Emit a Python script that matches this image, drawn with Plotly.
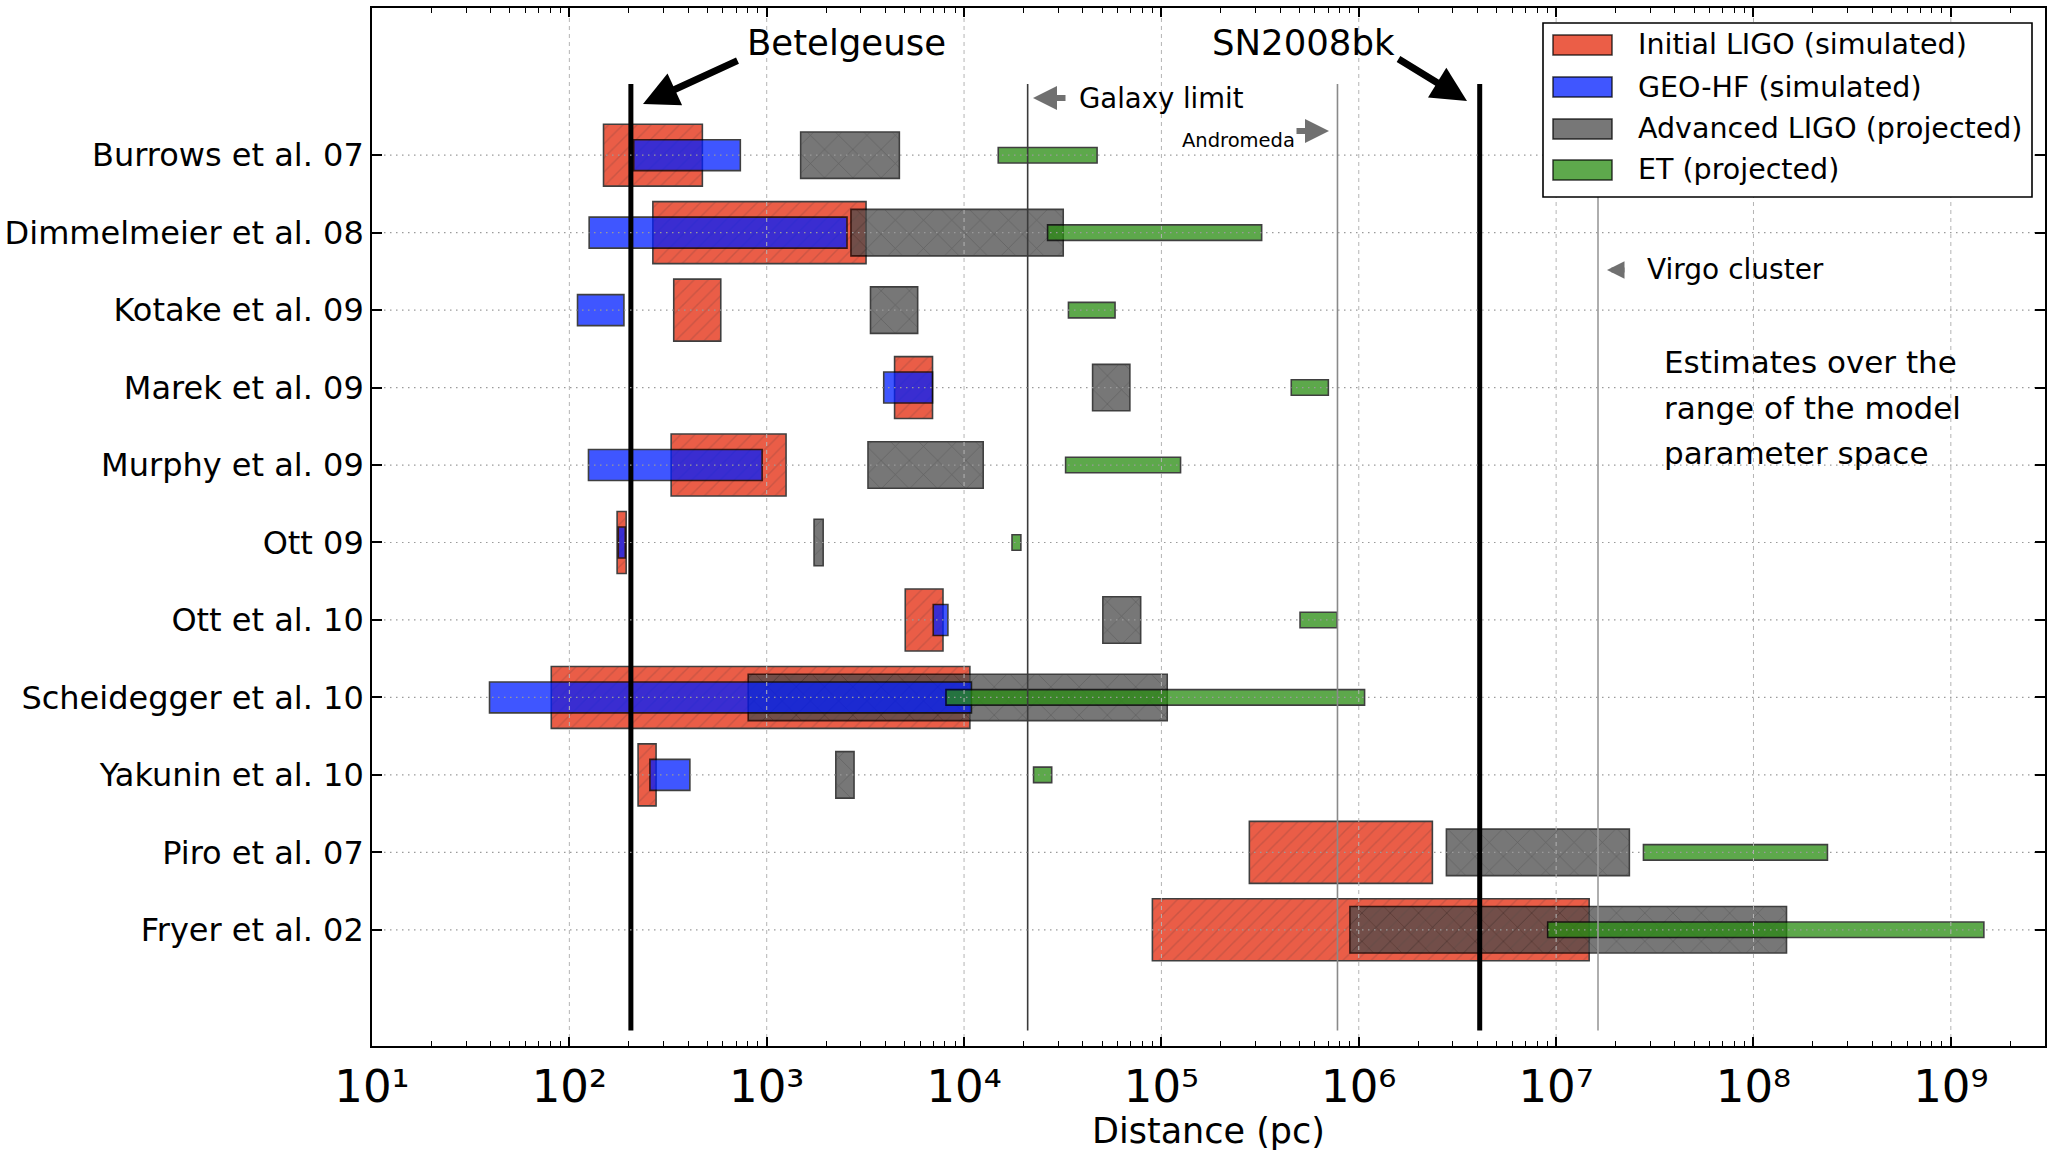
import math
import plotly.graph_objects as go

# ---------------- data (distances in pc) ----------------
models = ["Burrows et al. 07", "Dimmelmeier et al. 08", "Kotake et al. 09",
          "Marek et al. 09", "Murphy et al. 09", "Ott 09", "Ott et al. 10",
          "Scheidegger et al. 10", "Yakunin et al. 10", "Piro et al. 07",
          "Fryer et al. 02"]

ligo_lo = [149, 265, 338, 4446, 328, 174.6, 5035, 81, 223, 2.79e5, 9.0e4]
ligo_hi = [472, 3186, 585, 6920, 1253, 194, 7819, 1.07e4, 275, 2.36e6, 1.47e7]

geo_lo = [212, 126, 110, 3917, 125, 177, 6980, 39.4, 256, None, None]
geo_hi = [735, 2552, 189, 6920, 948, 192, 8280, 1.09e4, 408, None, None]

aligo_lo = [1486, 2673, 3357, 4.48e4, 3260, 1738, 5.05e4, 806, 2240, 2.78e6, 9.02e5]
aligo_hi = [4700, 3.18e4, 5820, 6.92e4, 1.25e4, 1932, 7.85e4, 1.07e5, 2770, 2.35e7, 1.47e8]

et_lo = [1.49e4, 2.65e4, 3.38e4, 4.55e5, 3.27e4, 1.75e4, 5.04e5, 8.1e3, 2.25e4, 2.77e7, 9.06e6]
et_hi = [4.72e4, 3.22e5, 5.82e4, 7.01e5, 1.25e5, 1.94e4, 7.76e5, 1.07e6, 2.78e4, 2.37e8, 1.47e9]

detector_names = ["Initial LIGO (simulated)", "GEO-HF (simulated)",
                  "Advanced LIGO (projected)", "ET (projected)"]

# reference distances (pc)
ref_names = ["Betelgeuse", "Galaxy limit", "Andromeda", "SN2008bk", "Virgo cluster"]
ref_dist = [205, 2.1e4, 7.8e5, 4.1e6, 1.63e7]

decade_exps = [1, 2, 3, 4, 5, 6, 7, 8, 9]
tick_labels = ["10¹", "10²", "10³", "10⁴", "10⁵", "10⁶", "10⁷", "10⁸", "10⁹"]

# ---------------- geometry helpers ----------------
FW, FH = 2052, 1151
L, R, T, B = 372, 2045, 8, 1046
PW, PH = R - L, B - T
XMAX = 3e9
YMIN, YMAX = -0.5, 12.9


def px(p):
    return (p - L) / PW


def py(p):
    return (B - p) / PH


n = len(models)
ypos = [n - i for i in range(n)]

fig = go.Figure()

# reference vertical lines (under the bars)
ref_style = {
    "Betelgeuse": dict(color="black", width=5),
    "Galaxy limit": dict(color="#3a3a3a", width=1.6),
    "Andromeda": dict(color="#8a8a8a", width=1.6),
    "SN2008bk": dict(color="black", width=5),
    "Virgo cluster": dict(color="#9a9a9a", width=1.6),
}
for nm, d in zip(ref_names, ref_dist):
    fig.add_trace(go.Scatter(x=[d, d], y=[-0.3, 11.92], mode="lines",
                             line=ref_style[nm], showlegend=False,
                             hoverinfo="skip", name=nm))

# bars
specs = [
    (0, ligo_lo, ligo_hi, 0.8, "rgb(228,40,10)",
     dict(shape="/", bgcolor="rgb(228,40,10)", fgcolor="rgb(120,10,0)",
          fgopacity=0.4, size=10, solidity=0.15)),
    (2, aligo_lo, aligo_hi, 0.6, "rgb(74,74,74)",
     dict(shape="x", bgcolor="rgb(74,74,74)", fgcolor="rgb(0,0,0)",
          fgopacity=0.4, size=20, solidity=0.07)),
    (1, geo_lo, geo_hi, 0.4, "rgb(0,30,255)", None),
    (3, et_lo, et_hi, 0.2, "rgb(40,140,16)", None),
]
for idx, lo, hi, w, col, pat in specs:
    ys, bases, lens = [], [], []
    for yv, a, b in zip(ypos, lo, hi):
        if a is None or b is None:
            continue
        ys.append(yv)
        bases.append(a)
        lens.append(b - a)
    marker = dict(color=col, opacity=0.75, line=dict(color="black", width=1.6))
    if pat is not None:
        marker["pattern"] = pat
    fig.add_trace(go.Bar(orientation="h", y=ys, x=lens, base=bases, width=w,
                         marker=marker, name=detector_names[idx],
                         showlegend=False))

# grid lines drawn above the bars (as in the original)
gx, gy = [], []
for e in decade_exps[1:]:
    gx += [10 ** e, 10 ** e, None]
    gy += [YMIN, YMAX, None]
fig.add_trace(go.Scatter(x=gx, y=gy, mode="lines", hoverinfo="skip",
                         line=dict(color="#b4b4b4", width=1, dash="4px,4px"),
                         showlegend=False))
hx, hy = [], []
for yv in ypos:
    hx += [10, XMAX, None]
    hy += [yv, yv, None]
fig.add_trace(go.Scatter(x=hx, y=hy, mode="lines", hoverinfo="skip",
                         line=dict(color="#9a9a9a", width=1.2, dash="1.5px,4.5px"),
                         showlegend=False))

minor_vals = [m * 10 ** e for e in decade_exps for m in range(2, 10) if m * 10 ** e <= XMAX]

fig.update_xaxes(type="log", range=[1, math.log10(XMAX)],
                 tickvals=[10 ** e for e in decade_exps], ticktext=tick_labels,
                 tickfont=dict(size=45, family="DejaVu Sans", color="black"),
                 ticks="inside", ticklen=9, tickwidth=1.5, tickcolor="black",
                 minor=dict(ticks="inside", ticklen=5, tickwidth=1.2,
                            tickcolor="black", tickvals=minor_vals, showgrid=False),
                 showline=True, linewidth=1.6, linecolor="black", mirror="ticks",
                 showgrid=False, zeroline=False,
                 title=dict(text="Distance (pc)", standoff=2,
                            font=dict(size=35, family="DejaVu Sans", color="black")))
fig.update_yaxes(range=[YMIN, YMAX], tickvals=ypos, ticktext=models,
                 tickfont=dict(size=32, family="DejaVu Sans", color="black"),
                 ticks="inside", ticklen=10, tickwidth=1.5, tickcolor="black",
                 ticklabelstandoff=0,
                 showline=True, linewidth=1.6, linecolor="black", mirror="ticks",
                 showgrid=False, zeroline=False)

ann = []


def text(t, x, y, size, xanchor="left"):
    ann.append(dict(text=t, x=px(x), y=py(y), xref="paper", yref="paper",
                    xanchor=xanchor, yanchor="middle", showarrow=False,
                    font=dict(size=size, family="DejaVu Sans", color="black")))


def arrow(tip, tail, color, width, head=2, size=1.0):
    ann.append(dict(text="", x=px(tip[0]), y=py(tip[1]), xref="paper", yref="paper",
                    ax=tail[0] - tip[0], ay=tail[1] - tip[1], axref="pixel", ayref="pixel",
                    showarrow=True, arrowhead=head, arrowsize=size,
                    arrowwidth=width, arrowcolor=color, standoff=0, startstandoff=0))


text("Betelgeuse", 846, 43, 35.5, "center")
text("SN2008bk", 1303, 43, 35.5, "center")
arrow((643, 104), (739, 60), "black", 7, 2, 1.0)
arrow((1467, 101), (1397, 58), "black", 7, 2, 1.0)
text("Galaxy limit", 1077, 98, 27.5)
arrow((1033, 98), (1067, 98), "#707070", 6, 2, 0.8)
text("Andromeda", 1180, 140, 19.5)
arrow((1329, 131), (1295, 131), "#707070", 6, 2, 0.8)
text("Virgo cluster", 1645, 270, 28)
arrow((1607, 270), (1626, 270), "#707070", 5, 2, 0.7)
text("Estimates over the", 1662, 362, 31)
text("range of the model", 1662, 408, 31)
text("parameter space", 1662, 453, 31)

# manual legend
shapes = [dict(type="rect", xref="paper", yref="paper",
               x0=px(1543), x1=px(2032), y0=py(197), y1=py(23),
               fillcolor="white", line=dict(color="black", width=1.6), layer="above")]
leg_cols = ["rgba(228,40,10,0.75)", "rgba(0,30,255,0.75)",
            "rgba(74,74,74,0.75)", "rgba(40,140,16,0.75)"]
leg_rows = [45, 87, 129, 170]
for nm, c, yr in zip(detector_names, leg_cols, leg_rows):
    shapes.append(dict(type="rect", xref="paper", yref="paper",
                       x0=px(1553), x1=px(1612), y0=py(yr + 10), y1=py(yr - 10),
                       fillcolor=c, line=dict(color="rgba(0,0,0,0.75)", width=1.5),
                       layer="above"))
    text(nm, 1636, yr, 28.5)

fig.update_layout(width=FW, height=FH,
                  margin=dict(l=L, r=FW - R, t=T, b=FH - B, autoexpand=False),
                  plot_bgcolor="white", paper_bgcolor="white",
                  font=dict(family="DejaVu Sans", color="black"),
                  barmode="overlay", showlegend=False,
                  annotations=ann, shapes=shapes)

fig.write_html("out.html", config={"displayModeBar": False},
               post_script="document.body.style.margin='0px';"
                           "document.body.style.overflow='hidden';")
